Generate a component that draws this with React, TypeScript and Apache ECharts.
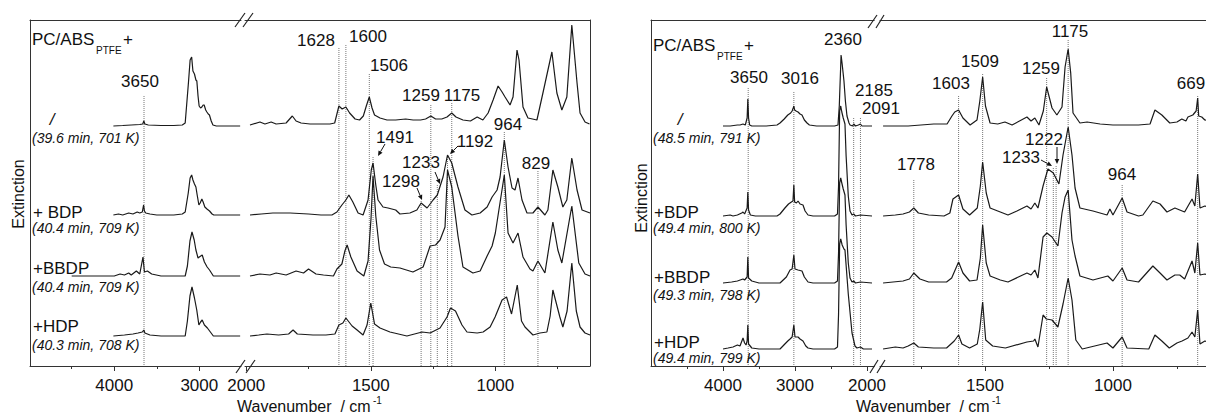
import React, { useEffect, useRef } from "react";
import * as echarts from "echarts";

const FONT = "'Liberation Sans', Arial, Helvetica, sans-serif";

// ---------------- Panel A (left): 39.6–40.4 min ----------------
const A_CONDITIONS = ["/", "+ BDP", "+BBDP", "+HDP"];
const A_TIMES = ["(39.6 min, 701 K)", "(40.4 min, 709 K)", "(40.4 min, 709 K)", "(40.3 min, 708 K)"];
const A_OFFSETS = [240, 151, 90, 30];

// high-wavenumber segment [wavenumber, extinction above own baseline]
const A_HI_PURE = [[4010,0],[3900,0.5],[3800,1],[3700,1.5],[3665,2],[3652,5],[3640,2],[3600,1],[3450,0.5],[3300,0.5],[3200,1],[3166,3],[3128,43],[3108,66],[3090,69],[3075,55],[3057,52],[3040,46],[3029,45],[3015,30],[3002,20],[2985,18],[2970,19],[2955,21],[2943,21],[2925,16],[2911,14],[2895,12],[2881,11],[2860,5],[2840,1],[2800,0],[2520,0]];
const A_HI_BDP = [[4010,0],[3950,1],[3900,0],[3830,2],[3780,1],[3730,3],[3700,2],[3670,3],[3655,10],[3645,4],[3630,2],[3580,1],[3500,0],[3300,0],[3200,1],[3166,3],[3130,22],[3108,37],[3090,40],[3075,35],[3057,31],[3040,28],[3025,20],[3005,10],[2990,12],[2970,16],[2955,13],[2935,8],[2910,6],[2880,4],[2850,1],[2830,0],[2520,0]];
const A_HI_BBDP = [[4500,0],[4200,0],[4000,0],[3931,2],[3880,1],[3830,3],[3800,1],[3740,5],[3700,2],[3662,19],[3645,4],[3610,5],[3560,2],[3450,0],[3166,0],[3140,10],[3110,35],[3086,44],[3060,36],[3040,26],[3015,18],[3000,19],[2966,21],[2940,14],[2908,9],[2880,6],[2835,0],[2520,0]];
const A_HI_HDP = [[4010,0],[3880,1],[3780,2],[3720,3],[3670,4],[3652,6],[3640,3],[3580,1],[3450,0],[3166,0],[3140,15],[3110,40],[3086,49],[3057,38],[3030,26],[3005,11],[2985,14],[2966,16],[2940,11],[2905,8],[2870,4],[2835,0],[2520,0]];

// low-wavenumber segment
const A_LO_PURE = [[1985,1],[1945,4],[1925,2],[1900,4],[1880,2],[1840,3],[1815,10],[1800,5],[1780,3],[1744,2],[1700,2],[1664,2],[1645,3],[1636,12],[1628,20],[1615,17],[1600,19],[1585,13],[1563,7],[1545,6],[1530,10],[1518,20],[1506,29],[1495,18],[1485,11],[1463,8],[1435,6],[1400,6],[1360,7],[1330,6],[1300,6],[1280,7],[1259,10],[1240,7],[1215,7],[1194,9],[1175,13],[1158,9],[1130,6],[1100,5],[1073,9],[1050,6],[1029,13],[1009,26],[989,40],[973,34],[961,29],[941,21],[929,29],[913,76],[905,66],[889,19],[869,8],[833,6],[809,33],[773,74],[753,33],[733,16],[713,29],[693,101],[672,43],[660,13],[640,4],[622,2]];
const A_LO_BDP = [[1985,0],[1940,1],[1893,2],[1824,2],[1750,1],[1700,0],[1656,0],[1636,3],[1616,10],[1600,15],[1588,20],[1572,13],[1551,2],[1531,0],[1511,15],[1498,45],[1491,52],[1480,30],[1471,15],[1451,8],[1431,7],[1400,5],[1383,1],[1343,2],[1315,5],[1298,12],[1274,7],[1250,15],[1233,20],[1210,38],[1192,60],[1175,52],[1150,28],[1122,5],[1094,0],[1061,2],[1033,8],[1013,18],[993,25],[981,38],[964,75],[949,48],[933,27],[921,25],[909,37],[893,15],[873,2],[849,2],[829,8],[801,0],[789,5],[769,45],[749,28],[729,8],[713,15],[693,57],[672,25],[652,5],[620,2]];
const A_LO_BBDP = [[1985,0],[1945,2],[1905,1],[1880,3],[1840,1],[1800,5],[1770,3],[1750,7],[1720,2],[1690,1],[1650,0],[1636,7],[1616,12],[1604,25],[1595,31],[1580,19],[1555,5],[1528,0],[1511,15],[1499,58],[1491,100],[1480,60],[1465,26],[1445,12],[1420,9],[1383,8],[1331,4],[1290,9],[1262,30],[1240,31],[1222,36],[1202,49],[1192,106],[1175,89],[1150,40],[1130,9],[1090,3],[1061,5],[1033,20],[1013,30],[1000,43],[964,101],[949,43],[929,33],[909,43],[889,19],[861,7],[849,5],[829,15],[801,3],[769,54],[749,26],[733,13],[693,70],[665,13],[640,2],[620,0]];
const A_LO_HDP = [[1985,0],[1950,1],[1917,2],[1870,1],[1830,2],[1812,6],[1795,2],[1732,1],[1680,1],[1644,2],[1628,11],[1612,13],[1600,18],[1575,10],[1555,6],[1531,1],[1515,11],[1500,33],[1485,12],[1463,8],[1423,4],[1355,0],[1294,4],[1262,3],[1222,8],[1194,19],[1180,28],[1160,25],[1134,11],[1114,4],[1073,3],[1049,4],[1021,9],[1001,19],[973,36],[955,39],[935,22],[912,51],[895,15],[881,9],[849,1],[821,3],[793,4],[780,20],[769,46],[741,19],[729,9],[712,25],[693,73],[675,25],[660,9],[640,3],[620,1]];

const A_HI = [A_HI_PURE, A_HI_BDP, A_HI_BBDP, A_HI_HDP];
const A_LO = [A_LO_PURE, A_LO_BDP, A_LO_BBDP, A_LO_HDP];

// ---------------- Panel B (right): 48.5–49.4 min ----------------
const B_CONDITIONS = ["/", "+BDP", "+BBDP", "+HDP"];
const B_TIMES = ["(48.5 min, 791 K)", "(49.4 min, 800 K)", "(49.3 min, 798 K)", "(49.4 min, 799 K)"];
const B_OFFSETS = [240, 150, 83, 17];

const B_HI_PURE = [[4000,0],[3900,0],[3800,1],[3764,1],[3722,2],[3690,1],[3665,8],[3655,27],[3645,8],[3630,1],[3600,0],[3400,0],[3250,1],[3208,3],[3150,7],[3100,11],[3060,13],[3040,15],[3025,18],[3016,20],[3005,16],[2985,15],[2958,14],[2930,12],[2903,11],[2870,6],[2833,3],[2800,1],[2700,0],[2450,0],[2403,1],[2385,20],[2360,71],[2345,62],[2320,45],[2300,25],[2278,10],[2250,3],[2236,1],[2200,0],[2185,2],[2160,0],[2120,1],[2091,2],[2070,0],[1930,0]];
const B_HI_BDP = [[4000,0],[3900,1],[3861,0],[3800,1],[3740,3],[3722,4],[3700,2],[3665,8],[3655,24],[3645,6],[3620,1],[3550,0],[3250,0],[3208,2],[3140,8],[3090,12],[3050,14],[3028,15],[3016,31],[3005,14],[2980,13],[2958,15],[2930,12],[2889,11],[2860,5],[2819,1],[2750,0],[2450,0],[2410,2],[2395,30],[2380,105],[2365,110],[2350,104],[2330,98],[2306,92],[2290,60],[2260,20],[2236,5],[2208,1],[2185,2],[2160,0],[2091,1],[1930,0]];
const B_HI_BBDP = [[4000,0],[3880,1],[3800,2],[3722,4],[3700,3],[3665,6],[3655,26],[3645,5],[3600,2],[3500,0],[3208,0],[3120,6],[3069,13],[3040,14],[3016,28],[3000,14],[2958,13],[2903,12],[2870,6],[2819,1],[2750,0],[2450,0],[2410,2],[2395,30],[2380,100],[2365,105],[2350,100],[2330,94],[2306,88],[2290,58],[2260,20],[2236,5],[2208,1],[2185,2],[2160,0],[2091,1],[1930,0]];
const B_HI_HDP = [[4000,0],[3930,1],[3861,2],[3800,4],[3764,3],[3722,11],[3700,6],[3680,4],[3665,8],[3655,24],[3645,5],[3600,1],[3500,0],[3208,0],[3100,8],[3069,10],[3040,12],[3016,24],[3000,12],[2958,12],[2930,10],[2889,8],[2850,3],[2819,1],[2750,0],[2450,0],[2410,2],[2395,35],[2380,105],[2365,110],[2345,104],[2320,100],[2306,99],[2260,55],[2208,16],[2167,3],[2140,1],[2091,2],[2050,0],[1930,0]];

const B_LO_PURE = [[1898,0],[1800,0],[1700,2],[1648,2],[1629,10],[1618,14],[1603,16],[1586,8],[1558,1],[1531,6],[1520,25],[1509,49],[1498,20],[1480,3],[1450,2],[1422,4],[1394,1],[1336,9],[1320,5],[1305,8],[1289,1],[1272,15],[1259,39],[1238,18],[1219,11],[1199,19],[1187,59],[1175,77],[1165,53],[1156,13],[1129,3],[1101,4],[1050,2],[1000,1],[900,1],[855,2],[836,16],[809,11],[778,3],[750,4],[731,7],[715,5],[707,9],[688,11],[675,15],[669,28],[665,10],[653,9],[641,6],[620,5]];
const B_LO_BDP = [[1898,0],[1850,1],[1820,2],[1795,4],[1778,8],[1760,3],[1720,1],[1660,0],[1637,3],[1625,17],[1603,21],[1586,7],[1560,1],[1530,8],[1518,30],[1509,54],[1495,23],[1480,8],[1440,4],[1410,1],[1375,5],[1336,10],[1320,7],[1305,13],[1293,8],[1273,30],[1254,47],[1233,43],[1211,32],[1195,61],[1175,89],[1160,61],[1148,28],[1129,8],[1078,5],[1023,1],[1012,7],[1000,1],[964,18],[945,4],[900,0],[883,1],[844,15],[816,12],[789,4],[758,8],[739,6],[720,4],[691,17],[680,10],[669,42],[660,8],[641,10],[620,8]];
const B_LO_BBDP = [[1898,0],[1820,2],[1795,4],[1778,10],[1754,4],[1720,1],[1650,1],[1630,5],[1603,21],[1586,10],[1560,2],[1531,3],[1518,25],[1509,58],[1495,20],[1480,7],[1440,3],[1410,1],[1336,10],[1320,8],[1305,13],[1293,5],[1273,46],[1258,50],[1238,46],[1215,37],[1199,70],[1187,86],[1175,93],[1160,43],[1148,27],[1129,7],[1078,3],[1020,7],[1000,2],[964,15],[945,3],[900,1],[844,17],[816,10],[789,3],[758,8],[739,8],[720,4],[691,22],[680,10],[669,40],[660,8],[641,9],[620,7]];
const B_LO_HDP = [[1898,0],[1850,2],[1820,1],[1800,3],[1778,6],[1760,2],[1700,1],[1650,1],[1620,8],[1603,14],[1590,5],[1560,1],[1530,5],[1520,20],[1509,47],[1497,9],[1470,3],[1420,1],[1336,7],[1310,8],[1305,10],[1293,2],[1273,34],[1260,30],[1238,29],[1215,22],[1195,45],[1175,71],[1160,49],[1145,9],[1120,0],[1023,6],[1000,1],[964,12],[945,1],[860,0],[836,14],[809,8],[780,1],[750,6],[730,8],[707,11],[691,17],[680,12],[669,39],[660,5],[641,8],[620,6]];

const B_HI = [B_HI_PURE, B_HI_BDP, B_HI_BBDP, B_HI_HDP];
const B_LO = [B_LO_PURE, B_LO_BDP, B_LO_BBDP, B_LO_HDP];

// ---------------- axis ticks ----------------
const A_HI_TICKS = [4000, 3000];
const A_HI_MINOR = [4500, 3500];
const A_LO_TICKS = [2000, 1500, 1000];
const A_LO_MINOR = [1750, 1250, 750];
const B_HI_TICKS = [4000, 3000, 2000];
const B_HI_MINOR = [4500, 3500, 2500];
const B_LO_TICKS = [1500, 1000];
const B_LO_MINOR = [1750, 1250, 750];

// ---------------- assigned bands ----------------
const A_HI_PEAKS = [3650];
const A_LO_PEAKS = [1628, 1600, 1506, 1491, 1298, 1259, 1233, 1192, 1175, 964, 829];
const B_HI_PEAKS = [3650, 3016, 2360, 2185, 2091];
const B_LO_PEAKS = [1778, 1603, 1509, 1259, 1233, 1222, 1175, 964, 669];

// ---------------- layout (pixels) ----------------
const PLOT_TOP = 20;
const PLOT_H = 346;
const PLOT_BOTTOM = PLOT_TOP + PLOT_H;

const GRIDS = [
  { left: 30, width: 211, min: 2510, max: 4990, ticks: A_HI_TICKS, minor: A_HI_MINOR, yPos: "left" },
  { left: 245, width: 345, min: 620, max: 2005, ticks: A_LO_TICKS, minor: A_LO_MINOR, yPos: "right" },
  { left: 651, width: 223.2, min: 1900, max: 5000, ticks: B_HI_TICKS, minor: B_HI_MINOR, yPos: "left" },
  { left: 880, width: 331.5, min: 615, max: 1910, ticks: B_LO_TICKS, minor: B_LO_MINOR, yPos: "right" },
];

// label centre x, centre y, top of dotted line (px)
const A_LABEL_POS: Record<number, [number, number, number | null]> = {
  3650: [140, 81.5, 96], 1628: [316, 40, 48], 1600: [368, 36, 45], 1506: [389, 65, 74],
  1491: [395, 137, 157], 1298: [401, 181, 201], 1259: [421, 95.5, 105], 1233: [421, 162.5, 185],
  1192: [475, 141, 155], 1175: [462, 95.5, 103], 964: [508, 124, 132], 829: [536, 163, 171],
};
const B_LABEL_POS: Record<number, [number, number, number | null]> = {
  3650: [749, 77.5, 88], 3016: [800, 78, 92], 2360: [843, 39, null], 2185: [874, 90, 118], 2091: [881, 108.5, 118],
  1778: [916, 164, 180], 1603: [951, 83, 96], 1509: [980, 61, 74], 1259: [1041, 68, 78], 1233: [1021, 157.5, 168],
  1222: [1044, 139, 166], 1175: [1070, 31, 40], 964: [1122, 174, 185], 669: [1191, 83, 96],
};
const ARROWS = [
  [385, 144, 378, 156], [458, 146, 450, 154], [435, 172, 440, 184], [417, 188, 422, 200],
  [1057, 147, 1057, 164], [1041, 160, 1052, 166],
];
const A_COND_POS = { x: 33, nameY: [119, 212.5, 268, 326], timeY: [137.5, 228, 287, 345], slashX: 52 };
const B_COND_POS = { x: 654, nameY: [119, 212.5, 277.5, 342.5], timeY: [137.5, 228, 295, 358], slashX: 680 };

function txt(x: number, y: number, text: string, size = 17, o: any = {}) {
  const align = o.align || "center";
  return {
    type: "text", x, y, silent: true, rotation: o.rotation || 0, z: 10,
    style: {
      text, fontSize: size, fontFamily: FONT, fill: "#111",
      fontStyle: o.italic ? "italic" : "normal",
      align, verticalAlign: "middle", textAlign: align, textVerticalAlign: "middle",
    },
  };
}

function arrow(x1: number, y1: number, x2: number, y2: number) {
  const dx = x2 - x1, dy = y2 - y1;
  const L = Math.hypot(dx, dy);
  const ux = dx / L, uy = dy / L;
  const hl = 5, hw = 2.3;
  const bx = x2 - ux * hl, by = y2 - uy * hl;
  return [
    { type: "line", silent: true, z: 10, shape: { x1, y1, x2: bx, y2: by }, style: { stroke: "#111", lineWidth: 1 } },
    { type: "polygon", silent: true, z: 10, shape: { points: [[x2, y2], [bx - uy * hw, by + ux * hw], [bx + uy * hw, by - ux * hw]] }, style: { fill: "#111" } },
  ];
}

function brk(x1: number, y1: number, x2: number, y2: number) {
  return { type: "line", silent: true, z: 10, shape: { x1, y1, x2, y2 }, style: { stroke: "#222", lineWidth: 1.2 } };
}

function buildOption() {
  const axisColor = "#333";
  const xAxis: any[] = [];
  const yAxis: any[] = [];
  GRIDS.forEach((g, i) => {
    xAxis.push({
      type: "value", gridIndex: i, min: g.min, max: g.max, inverse: true, position: "bottom",
      axisLine: { show: true, onZero: false, lineStyle: { color: axisColor, width: 1 } },
      axisTick: { show: true, inside: false, length: 5, customValues: g.ticks, lineStyle: { color: axisColor } },
      axisLabel: { show: true, customValues: g.ticks, fontSize: 17, fontFamily: FONT, color: "#111", margin: 11, formatter: (v: number) => String(v) },
      splitLine: { show: false },
    });
    xAxis.push({
      type: "value", gridIndex: i, min: g.min, max: g.max, inverse: true, position: "bottom",
      axisLine: { show: false, onZero: false },
      axisTick: { show: true, inside: false, length: 3, customValues: g.minor, lineStyle: { color: axisColor } },
      axisLabel: { show: false }, splitLine: { show: false },
    });
    xAxis.push({
      type: "value", gridIndex: i, min: g.min, max: g.max, inverse: true, position: "top",
      axisLine: { show: true, onZero: false, lineStyle: { color: axisColor, width: 1 } },
      axisTick: { show: false }, axisLabel: { show: false }, splitLine: { show: false },
    });
    yAxis.push({
      type: "value", gridIndex: i, min: 0, max: PLOT_H, position: g.yPos,
      axisLine: { show: true, onZero: false, lineStyle: { color: axisColor, width: 1 } },
      axisTick: { show: false }, axisLabel: { show: false }, splitLine: { show: false },
    });
  });

  const series: any[] = [];
  const spec = (pts: number[][], off: number, g: number) => ({
    type: "line", xAxisIndex: g * 3, yAxisIndex: g, symbol: "none", silent: true, z: 3,
    lineStyle: { color: "#1a1a1a", width: 1.2 },
    data: pts.map(([w, h]) => [w, h + off]),
  });
  const mark = (wn: number, topPx: number, g: number) => ({
    type: "line", xAxisIndex: g * 3, yAxisIndex: g, symbol: "none", silent: true, z: 2,
    lineStyle: { color: "#777", width: 1, type: "dotted" },
    data: [[wn, PLOT_BOTTOM - topPx], [wn, 0]],
  });

  A_HI.forEach((s, k) => series.push(spec(s, A_OFFSETS[k], 0)));
  A_LO.forEach((s, k) => series.push(spec(s, A_OFFSETS[k], 1)));
  B_HI.forEach((s, k) => series.push(spec(s, B_OFFSETS[k], 2)));
  B_LO.forEach((s, k) => series.push(spec(s, B_OFFSETS[k], 3)));

  const graphics: any[] = [];
  const addPeaks = (peaks: number[], pos: Record<number, [number, number, number | null]>, g: number) => {
    peaks.forEach((p) => {
      const [cx, cy, top] = pos[p];
      if (top != null) series.push(mark(p, top, g));
      graphics.push(txt(cx, cy, String(p)));
    });
  };
  addPeaks(A_HI_PEAKS, A_LABEL_POS, 0);
  addPeaks(A_LO_PEAKS, A_LABEL_POS, 1);
  addPeaks(B_HI_PEAKS, B_LABEL_POS, 2);
  addPeaks(B_LO_PEAKS, B_LABEL_POS, 3);

  ARROWS.forEach((a) => graphics.push(...arrow(a[0], a[1], a[2], a[3])));

  // condition labels
  const cond = (names: string[], times: string[], P: any) => {
    names.forEach((n, k) => {
      if (n === "/") graphics.push(txt(P.slashX, P.nameY[k], n, 17, { italic: true }));
      else graphics.push(txt(P.x, P.nameY[k], n, 17, { align: "left" }));
      graphics.push(txt(P.x - 1, P.timeY[k], times[k], 14, { align: "left", italic: true }));
    });
  };
  cond(A_CONDITIONS, A_TIMES, A_COND_POS);
  cond(B_CONDITIONS, B_TIMES, B_COND_POS);

  // headers PC/ABS_PTFE+
  [[32, 39], [653, 45]].forEach(([x, y]) => {
    graphics.push(txt(x, y, "PC/ABS", 17, { align: "left" }));
    graphics.push(txt(x + 64, y + 11, "PTFE", 10, { align: "left" }));
    graphics.push(txt(x + 91, y, "+", 17, { align: "left" }));
  });

  // axis titles
  [[18, 194], [641, 198]].forEach(([x, y]) => graphics.push(txt(x, y, "Extinction", 16, { rotation: Math.PI / 2 })));
  [[237, 406], [856, 406]].forEach(([x, y]) => {
    graphics.push(txt(x, y, "Wavenumber  / cm", 16, { align: "left" }));
    graphics.push(txt(x + 136, y - 6, "-1", 10, { align: "left" }));
  });

  // axis-break marks
  graphics.push(brk(235, 27, 245, 13), brk(243, 27, 253, 13), brk(236, 373, 245, 360), brk(246, 373, 255, 360));
  graphics.push(brk(868, 28, 877, 15), brk(876, 28, 884, 15), brk(870, 373, 878, 360), brk(877, 373, 885, 360));

  return {
    animation: false,
    backgroundColor: "#ffffff",
    grid: GRIDS.map((g) => ({ left: g.left, top: PLOT_TOP, width: g.width, height: PLOT_H, containLabel: false, outerBoundsMode: "none" })),
    xAxis,
    yAxis,
    series,
    graphic: { elements: graphics },
  };
}

export default function App() {
  const ref = useRef<HTMLDivElement>(null);
  useEffect(() => {
    if (!ref.current) return;
    const chart = echarts.init(ref.current, null, { renderer: "svg" });
    chart.setOption(buildOption() as any);
    return () => chart.dispose();
  }, []);
  return <div ref={ref} style={{ position: "absolute", left: 0, top: 0, width: 1206, height: 416, background: "#fff" }} />;
}
